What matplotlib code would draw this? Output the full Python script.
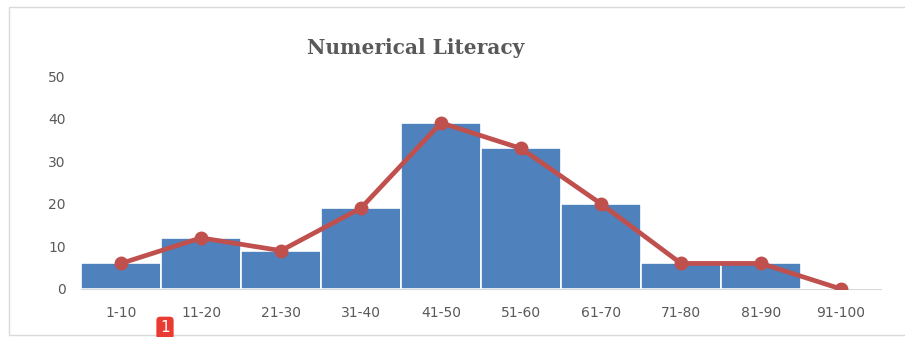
import matplotlib.pyplot as plt
from matplotlib.patches import Rectangle

# data
ranges = ['1-10', '11-20', '21-30', '31-40', '41-50',
          '51-60', '61-70', '71-80', '81-90', '91-100']
bar_counts = [6, 12, 9, 19, 39, 33, 20, 6, 6, 0]
line_counts = [6, 12, 9, 19, 39, 33, 20, 6, 6, 0]
y_ticks = [0, 10, 20, 30, 40, 50]

TEXT = '#595959'

fig = plt.figure(figsize=(9.05, 3.37), dpi=100)

# light chart frame
fig.patches.append(Rectangle((9/905, 2/337), 1.0, 328/337, transform=fig.transFigure,
                             fill=False, edgecolor='#d9d9d9', linewidth=1))

ax = fig.add_axes([81/905, 48/337, 800/905, 213/337])
x = list(range(len(ranges)))
ax.bar(x, bar_counts, width=1.0, color='#4f81bd', edgecolor='white', linewidth=1.2, zorder=2)
ax.plot(x, line_counts, color='#c0504d', linewidth=3.4, marker='o', markersize=9, zorder=3)

ax.set_xlim(-0.5, 9.5)
ax.set_ylim(0, 50)
ax.set_xticks(x)
ax.set_xticklabels(ranges)
ax.set_yticks(y_ticks)
ax.tick_params(length=0, colors=TEXT, labelsize=10)
ax.tick_params(axis='x', pad=12)
ax.tick_params(axis='y', pad=11)
for s in ['top', 'right', 'left']:
    ax.spines[s].set_visible(False)
ax.spines['bottom'].set_color('#d9d9d9')
ax.spines['bottom'].set_zorder(1)

fig.text(416/905, 1 - 48/337, 'Numerical Literacy', ha='center', va='center',
         family='DejaVu Serif', fontsize=14.5, fontweight='bold', color=TEXT)

# little red badge at the bottom
fig.text(165/905, 1 - 328/337, '1', ha='center', va='center', color='white', fontsize=11,
         bbox=dict(boxstyle='round,pad=0.25', facecolor='#ea3b32', edgecolor='none'))

fig.savefig('out.png', dpi=100)
